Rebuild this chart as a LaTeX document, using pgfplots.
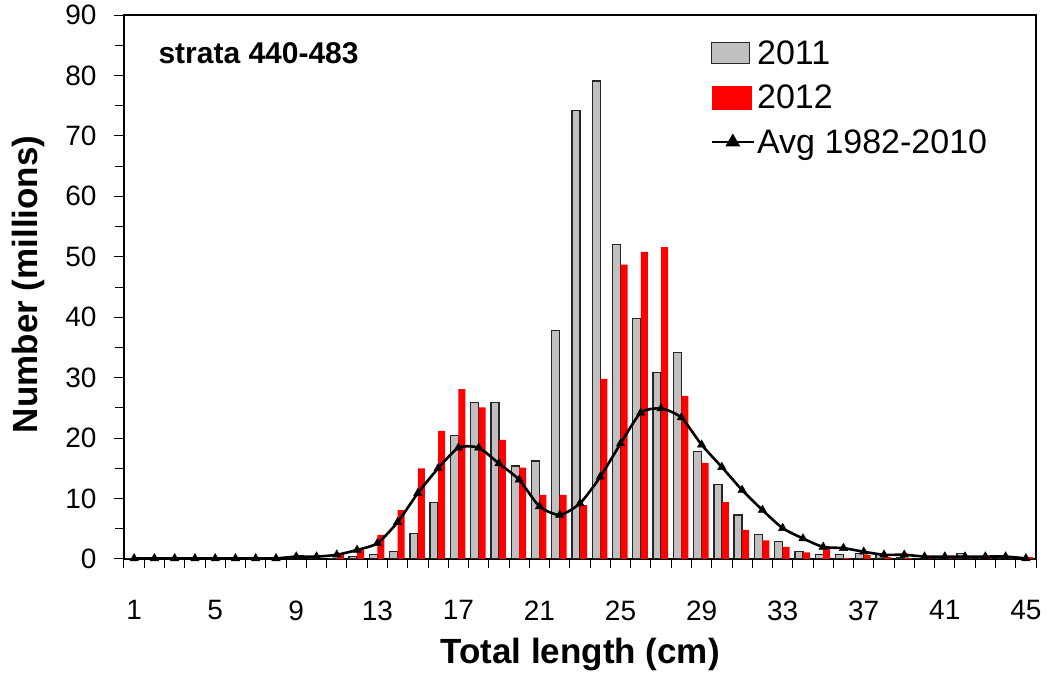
\documentclass[border=0pt]{standalone}
\usepackage{fontspec}
\setmainfont{Liberation Sans}
\usepackage{pgfplots}
\pgfplotsset{compat=1.18}
\usepackage{pgfplotstable}

% columns: length, 2011, 2012, average 1982-2010
\pgfplotstableread{
len y2011 y2012 avg
1  0    0    0.1
2  0    0    0.1
3  0    0    0.1
4  0    0    0.1
5  0    0    0.1
6  0    0    0.1
7  0    0    0.1
8  0    0    0.1
9  0    0    0.4
10 0    0    0.4
11 0.1  0.8  0.7
12 0.4  1.5  1.5
13 0.8  4.0  2.6
14 1.2  8.1  6.1
15 4.2  15.0 10.9
16 9.3  21.2 15.0
17 20.4 28.1 18.4
18 25.9 25.1 18.4
19 25.9 19.7 15.8
20 15.4 15.1 13.1
21 16.2 10.6 8.7
22 37.8 10.6 7.3
23 74.2 8.9  9.2
24 79.1 29.8 13.6
25 52.0 48.7 19.1
26 39.8 50.8 24.2
27 30.8 51.6 24.9
28 34.2 27.0 23.4
29 17.8 15.9 18.9
30 12.3 9.4  15.2
31 7.3  4.8  11.4
32 4.0  3.1  8.1
33 2.9  2.0  5.1
34 1.2  1.1  3.4
35 0.7  1.8  2.0
36 0.7  0.2  1.8
37 0.9  0.7  1.2
38 0.8  0.3  0.7
39 0.3  0.2  0.7
40 0.1  0.1  0.4
41 0.1  0.1  0.4
42 0.9  0.1  0.4
43 0.2  0.1  0.4
44 0.1  0.1  0.4
45 0.1  0.3  0.1
}\lengthdata

\definecolor{bargrey}{RGB}{192,192,192}

\begin{document}
\begin{tikzpicture}
\useasboundingbox (0pt,0pt) rectangle (1050pt,677pt);
\begin{axis}[
  at={(124pt,118pt)}, anchor=south west,
  scale only axis, width=912pt, height=544pt,
  xmin=0.5, xmax=45.5, ymin=0, ymax=90,
  xtick={1,5,...,45}, major x tick style={draw=none},
  minor xtick={0.5,1.5,...,45.5},
  ytick={0,10,...,90}, minor ytick={5,15,...,85},
  tick align=outside, xtick pos=bottom, ytick pos=left,
  major tick length=10pt, minor tick length=9pt,
  tick style={black, line width=1pt},
  axis line style={line width=1.2pt},
  /pgf/number format/assume math mode=true,
  ticklabel style={font=\fontsize{28}{32}\selectfont},
  xticklabel style={yshift=-28pt},
  yticklabel style={xshift=-14pt},
  xlabel={\bfseries Total length (cm)},
  ylabel={\bfseries Number (millions)},
  label style={font=\fontsize{35}{40}\selectfont},
  xlabel style={at={(axis description cs:0.5,-0.176)}, anchor=center},
  ylabel style={at={(axis description cs:-0.105,0.505)}, anchor=center},
  legend cell align=left,
  legend style={at={(axis description cs:0.6396,0.96)}, anchor=north west,
    draw=none, fill=none, font=\fontsize{34}{38}\selectfont,
    row sep=15pt, /tikz/every even column/.append style={column sep=12pt}},
]
\addplot[ybar, bar width=8pt, bar shift=-4pt, fill=bargrey, draw=black!85, line width=1.3pt,
  legend image code/.code={\draw[fill=bargrey, draw=black!85, line width=1.3pt] (0pt,-10pt) rectangle (38pt,11pt);}]
  table[x=len, y=y2011] {\lengthdata};
\addlegendentry{2011}
\addplot[ybar, bar width=7pt, bar shift=3.5pt, fill=red, draw=none,
  legend image code/.code={\fill[red] (0pt,-12pt) rectangle (40pt,12pt);}]
  table[x=len, y=y2012] {\lengthdata};
\addlegendentry{2012}
\addplot[black, line width=2.6pt, smooth, tension=0.4, mark=triangle*,
  mark size=4.8pt, mark options={line width=0.5pt},
  legend image code/.code={\draw[black, line width=2.6pt] (0pt,0pt) -- (42pt,0pt);
    \fill[black] (21pt,0pt) ++(90:6pt) -- ++(240:10.4pt) -- ++(0:10.4pt) -- cycle;}]
  table[x=len, y=avg] {\lengthdata};
\addlegendentry{Avg 1982-2010}
\node[anchor=west, font=\bfseries\fontsize{30}{34}\selectfont]
  at (axis description cs:0.034,0.930) {strata 440-483};
\end{axis}
\end{tikzpicture}
\end{document}
